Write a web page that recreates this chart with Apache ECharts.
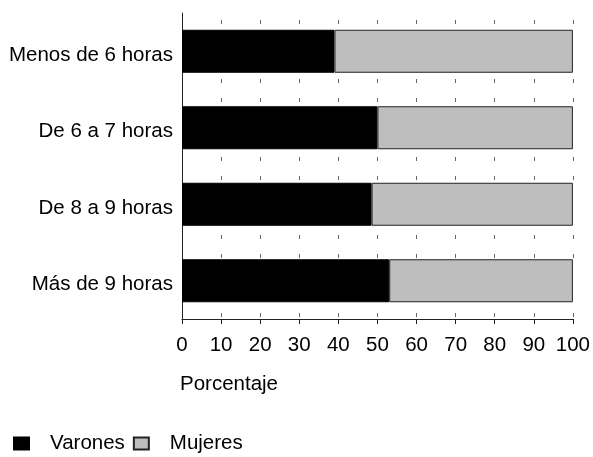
<!DOCTYPE html>
<html>
<head>
<meta charset="utf-8">
<script src="https://cdn.jsdelivr.net/npm/echarts@6/dist/echarts.min.js"></script>
<style>html,body{margin:0;padding:0;background:#fff}#c{width:593px;height:457px}</style>
</head>
<body>
<div id="c"></div>
<script>
var categories = ['Menos de 6 horas', 'De 6 a 7 horas', 'De 8 a 9 horas', 'Más de 9 horas'];
var varones = [39, 50, 48.5, 53];
var mujeres = [61, 50, 51.5, 47];
var xTicks = [0, 10, 20, 30, 40, 50, 60, 70, 80, 90, 100];
var seriesNames = ['Varones', 'Mujeres'];
var axisTitle = 'Porcentaje';

var FONT = '"Liberation Sans", Arial, sans-serif';
var FS = 20.5;
var chart = echarts.init(document.getElementById('c'), null, {renderer: 'canvas'});
chart.setOption({
  animation: false,
  backgroundColor: '#fff',
  textStyle: {fontFamily: FONT},
  title: {
    text: axisTitle, left: 180, top: 374, padding: 0,
    textStyle: {fontFamily: FONT, fontSize: FS, fontWeight: 'normal', color: '#000'}
  },
  legend: {
    left: 13, top: 433, padding: 0, itemWidth: 15, itemHeight: 12, itemGap: 8,
    icon: 'rect',
    data: seriesNames,
    textStyle: {fontFamily: FONT, fontSize: FS, color: '#000', padding: [0, 0, 0, 16]}
  },
  grid: {left: 182, right: 17.5, top: 13, bottom: 138, containLabel: false},
  xAxis: {
    type: 'value', min: xTicks[0], max: xTicks[xTicks.length - 1], interval: 10,
    axisLine: {show: true, lineStyle: {color: '#222', width: 1}},
    axisTick: {show: true, length: 5, inside: false, lineStyle: {color: '#222'}},
    axisLabel: {fontFamily: FONT, fontSize: FS, color: '#000', margin: 16},
    splitLine: {show: true, lineStyle: {color: '#666', width: 1, type: [4, 55, 4, 15], dashOffset: 71}}
  },
  yAxis: {
    type: 'category', data: categories, inverse: true,
    axisLine: {show: true, lineStyle: {color: '#222', width: 1}},
    axisTick: {show: false},
    axisLabel: {fontFamily: FONT, fontSize: FS, color: '#000', margin: 9, verticalAlign: 'top', lineHeight: 8}
  },
  series: [
    {name: seriesNames[0], type: 'bar', stack: 'total', data: varones, barWidth: 43,
     itemStyle: {color: '#000', borderColor: '#000', borderWidth: 1}},
    {name: seriesNames[1], type: 'bar', stack: 'total', data: mujeres, barWidth: 43,
     itemStyle: {color: '#bebebe', borderColor: '#222', borderWidth: 1}}
  ]
});
</script>
</body>
</html>
